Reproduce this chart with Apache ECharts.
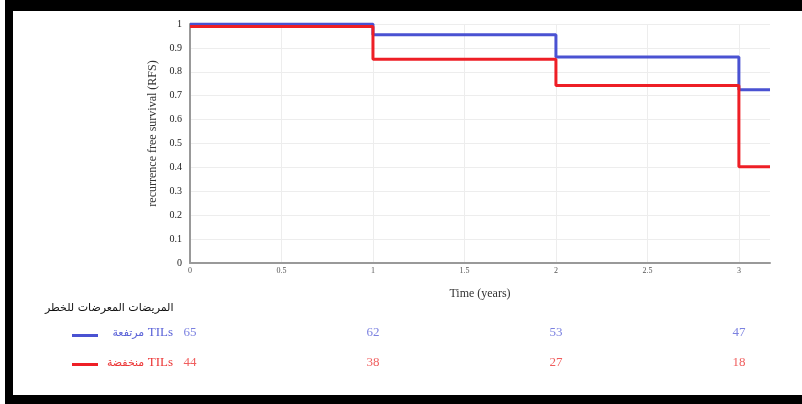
<!DOCTYPE html>
<html><head><meta charset="utf-8">
<script src="https://cdn.jsdelivr.net/npm/echarts@6/dist/echarts.min.js"></script>
<style>html,body{margin:0;padding:0;background:#fff}#c{width:802px;height:404px}</style>
</head><body><div id="c"></div>
<script>
// Kaplan-Meier step data (time in years, survival)
const timesHigh = [0, 1, 2, 3, 3.17];
const survHigh  = [1.0, 0.955, 0.862, 0.725, 0.725];
const timesLow  = [0, 1, 2, 3, 3.17];
const survLow   = [0.99, 0.853, 0.743, 0.403, 0.403];
// numbers at risk table
const riskTimes = [0, 1, 2, 3];
const riskHigh  = [65, 62, 53, 47];
const riskLow   = [44, 38, 27, 18];
const groupKeys = ['high', 'low'];
const groupArabic = ['مرتفعة', 'منخفضة'];
const groupLatin = 'TILs';
const riskTitle = 'المريضات المعرضات للخطر';
const xAxisName = 'Time (years)';
const yAxisName = 'recurrence free survival (RFS)';

const BLUE = '#4a52d2', RED = '#ee1f26';
const BLUE_T = '#5a62d8', RED_T = '#ec3535';
const SERIF = '"Liberation Serif","Times New Roman",serif';
const SANS = '"DejaVu Sans",sans-serif';

const chart = echarts.init(document.getElementById('c'), null, {renderer: 'canvas'});
chart.setOption({
  animation: false,
  backgroundColor: '#fff',
  graphic: [
    {type: 'rect', shape: {x: 5, y: 0, width: 797, height: 11}, style: {fill: '#000'}, silent: true},
    {type: 'rect', shape: {x: 5, y: 0, width: 8, height: 404}, style: {fill: '#000'}, silent: true},
    {type: 'rect', shape: {x: 5, y: 395, width: 797, height: 9}, style: {fill: '#000'}, silent: true}
  ],
  title: {
    text: riskTitle, left: 45, top: 303, padding: 0,
    textStyle: {fontFamily: SANS, fontSize: 11, fontWeight: 'normal', color: '#111'}
  },
  legend: [
    {data: [groupKeys[0]], left: 72, top: 334, orient: 'vertical', icon: 'rect', itemWidth: 26, itemHeight: 3,
     padding: 0, selectedMode: false, formatter: () => '', textStyle: {fontSize: 12}},
    {data: [groupKeys[1]], left: 72, top: 363, orient: 'vertical', icon: 'rect', itemWidth: 26, itemHeight: 3,
     padding: 0, selectedMode: false, formatter: () => '', textStyle: {fontSize: 12}}
  ],
  grid: [
    {left: 190, top: 24, width: 580, height: 239},
    {left: 190, top: 318, width: 580, height: 60}
  ],
  xAxis: [
    {type: 'value', gridIndex: 0, min: 0, max: 3.17, interval: 0.5,
     name: xAxisName, nameLocation: 'middle', nameGap: 25,
     nameTextStyle: {fontFamily: SERIF, fontSize: 12, color: '#333'},
     axisLine: {show: true, lineStyle: {color: '#999', width: 2}},
     axisTick: {show: false},
     axisLabel: {fontFamily: SERIF, fontSize: 8, color: '#555', margin: 4, showMaxLabel: false},
     splitLine: {show: true, showMaxLine: false, lineStyle: {color: '#ededed', width: 1}}},
    {type: 'value', gridIndex: 1, min: 0, max: 3.17, show: false}
  ],
  yAxis: [
    {type: 'value', gridIndex: 0, min: 0, max: 1, interval: 0.1,
     name: yAxisName, nameLocation: 'middle', nameGap: 31, nameRotate: 90,
     nameTextStyle: {fontFamily: SERIF, fontSize: 12, color: '#333', padding: [0, 0, 0, 20]},
     axisLine: {show: true, lineStyle: {color: '#999', width: 2}},
     axisTick: {show: false},
     axisLabel: {fontFamily: SERIF, fontSize: 10, color: '#222', margin: 8},
     splitLine: {show: true, lineStyle: {color: '#ededed', width: 1}}},
    {type: 'category', gridIndex: 1, data: groupKeys, inverse: true,
     axisLine: {show: false}, axisTick: {show: false}, splitLine: {show: false},
     axisLabel: {
       margin: 17,
       formatter: (v, i) => i === 0 ? `{ah|${groupArabic[0]} }{th|${groupLatin}}` : `{al|${groupArabic[1]} }{tl|${groupLatin}}`,
       rich: {
         ah: {fontFamily: SANS, fontSize: 11, color: BLUE_T},
         th: {fontFamily: SERIF, fontSize: 13, color: BLUE_T},
         al: {fontFamily: SANS, fontSize: 11, color: RED_T},
         tl: {fontFamily: SERIF, fontSize: 13, color: RED_T}
       }
     }}
  ],
  series: [
    {name: groupKeys[0], type: 'line', step: 'end', xAxisIndex: 0, yAxisIndex: 0, symbol: 'none',
     color: BLUE, lineStyle: {color: BLUE, width: 3}, z: 2,
     data: timesHigh.map((t, i) => [t, survHigh[i]])},
    {name: groupKeys[1], type: 'line', step: 'end', xAxisIndex: 0, yAxisIndex: 0, symbol: 'none',
     color: RED, lineStyle: {color: RED, width: 3}, z: 3,
     data: timesLow.map((t, i) => [t, survLow[i]])},
    {name: 'risk-high', type: 'scatter', xAxisIndex: 1, yAxisIndex: 1, symbolSize: 1,
     itemStyle: {color: 'rgba(0,0,0,0)'},
     label: {show: true, position: 'inside', formatter: p => p.value[2], fontFamily: SERIF, fontSize: 13, color: BLUE_T},
     data: riskTimes.map((t, i) => [t, groupKeys[0], riskHigh[i]])},
    {name: 'risk-low', type: 'scatter', xAxisIndex: 1, yAxisIndex: 1, symbolSize: 1,
     itemStyle: {color: 'rgba(0,0,0,0)'},
     label: {show: true, position: 'inside', formatter: p => p.value[2], fontFamily: SERIF, fontSize: 13, color: RED_T},
     data: riskTimes.map((t, i) => [t, groupKeys[1], riskLow[i]])}
  ]
});
</script></body></html>
